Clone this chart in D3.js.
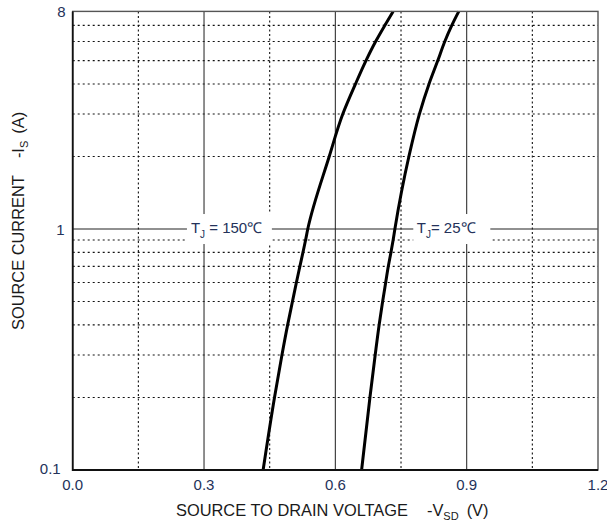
<!DOCTYPE html>
<html>
<head>
<meta charset="utf-8">
<script src="https://cdn.jsdelivr.net/npm/d3@7"></script>
<style>
  html, body { margin: 0; padding: 0; background: #fff; }
  svg { display: block; font-family: "Liberation Sans", Arial, sans-serif; }
</style>
</head>
<body>
<svg id="chart" width="607" height="525"></svg>
<script>
// Source current levels (A), shared by both curves
const currents = [0.1, 0.2, 0.3, 0.4, 0.5, 0.6, 0.7, 0.8, 0.9, 1, 2, 3, 4, 5, 6, 7, 8];
// Source-to-drain voltage (V) at each current, Tj = 150 °C
const vsd150 = [0.435, 0.461, 0.478, 0.491, 0.502, 0.511, 0.519, 0.526, 0.532, 0.537, 0.586, 0.617, 0.646, 0.670, 0.692, 0.713, 0.732];
// Source-to-drain voltage (V) at each current, Tj = 25 °C
const vsd25 = [0.660, 0.679, 0.691, 0.700, 0.708, 0.715, 0.721, 0.727, 0.732, 0.736, 0.768, 0.792, 0.814, 0.834, 0.850, 0.866, 0.882];

const xTicks = [0.0, 0.3, 0.6, 0.9, 1.2];
const xTickLabels = ["0.0", "0.3", "0.6", "0.9", "1.2"];
const xMinor = [0.15, 0.45, 0.75, 1.05];
const yTicks = [0.1, 1, 8];
const yTickLabels = ["0.1", "1", "8"];
const yMinor = [0.2, 0.3, 0.4, 0.5, 0.6, 0.7, 0.8, 0.9, 2, 3, 4, 5, 6, 7];

const svg = d3.select("#chart");
const plot = { left: 72.7, right: 598, top: 11.4, bottom: 470 };

const x = d3.scaleLinear().domain([0, 1.2]).range([plot.left, plot.right]);
const y = d3.scaleLog().domain([0.1, 8]).range([plot.bottom, plot.top]);

const labelColor = "#24325a";
const grid = svg.append("g");

// Dotted minor grid
grid.selectAll(".hminor").data(yMinor).join("line")
  .attr("x1", plot.left).attr("x2", plot.right)
  .attr("y1", d => y(d)).attr("y2", d => y(d))
  .attr("stroke", "#111").attr("stroke-width", 1.1)
  .attr("stroke-dasharray", "2,3");
grid.selectAll(".vminor").data(xMinor).join("line")
  .attr("x1", d => x(d)).attr("x2", d => x(d))
  .attr("y1", plot.top).attr("y2", plot.bottom)
  .attr("stroke", "#111").attr("stroke-width", 1.1)
  .attr("stroke-dasharray", "2,2.5");

// Solid major grid
grid.selectAll(".vmajor").data(xTicks.filter(d => d > 0 && d < 1.2)).join("line")
  .attr("x1", d => x(d)).attr("x2", d => x(d))
  .attr("y1", plot.top).attr("y2", plot.bottom)
  .attr("stroke", "#333").attr("stroke-width", 1.1);
grid.append("line")
  .attr("x1", plot.left).attr("x2", plot.right)
  .attr("y1", y(1)).attr("y2", y(1))
  .attr("stroke", "#222").attr("stroke-width", 1.2);

// Curve labels sit on white patches that break the grid
const curveLabels = [
  { box: [0.261, 0.455], tx: 0.270, text: " = 150℃" },
  { box: [0.778, 0.954], tx: 0.786, text: "= 25℃" }
];
curveLabels.forEach(l => {
  svg.append("rect")
    .attr("x", x(l.box[0])).attr("y", y(1) - 15)
    .attr("width", x(l.box[1]) - x(l.box[0])).attr("height", 30)
    .attr("fill", "#fff");
  const t = svg.append("text")
    .attr("x", x(l.tx)).attr("y", y(1) + 3.5)
    .attr("font-size", 15).attr("fill", labelColor);
  t.append("tspan").text("T");
  t.append("tspan").attr("font-size", 10).attr("dy", 5).text("J");
  t.append("tspan").attr("dy", -5).text(l.text);
});

// Forward characteristic curves
const line = d3.line().curve(d3.curveMonotoneY);
[vsd150, vsd25].forEach(vs => {
  svg.append("path")
    .attr("d", line(currents.map((c, i) => [x(vs[i]), y(c)]).reverse()))
    .attr("fill", "none").attr("stroke", "#000")
    .attr("stroke-width", 3).attr("stroke-linecap", "butt");
});

// Frame
svg.append("rect")
  .attr("x", plot.left).attr("y", plot.top)
  .attr("width", plot.right - plot.left).attr("height", plot.bottom - plot.top)
  .attr("fill", "none").attr("stroke", "#555").attr("stroke-width", 1.4);
svg.append("path")
  .attr("d", `M${plot.left},${plot.top}V${plot.bottom}H${plot.right}`)
  .attr("fill", "none").attr("stroke", "#111").attr("stroke-width", 1.8);

// Tick labels
svg.selectAll(".xtl").data(xTicks).join("text")
  .attr("x", d => x(d)).attr("y", 490)
  .attr("text-anchor", "middle").attr("font-size", 15).attr("fill", labelColor)
  .text((d, i) => xTickLabels[i]);
const yOffsets = { 0.1: [-12, 3.5], 1: [-8, 5.5], 8: [-7, 6] };
svg.selectAll(".ytl").data(yTicks).join("text")
  .attr("x", d => plot.left + yOffsets[d][0])
  .attr("y", d => y(d) + yOffsets[d][1])
  .attr("text-anchor", "end").attr("font-size", 15).attr("fill", labelColor)
  .text((d, i) => yTickLabels[i]);

// Axis titles
const xt = svg.append("text")
  .attr("x", 176).attr("y", 516)
  .attr("font-size", 16.4).attr("fill", "#1a1a1a");
xt.append("tspan").text("SOURCE TO DRAIN VOLTAGE");
xt.append("tspan").attr("dx", 19).text("-V");
xt.append("tspan").attr("font-size", 11).attr("dy", 4).text("SD");
xt.append("tspan").attr("dy", -4).attr("dx", 8).text("(V)");

const yt = svg.append("text")
  .attr("transform", "translate(24,330) rotate(-90)")
  .attr("font-size", 16.4).attr("fill", "#1a1a1a");
yt.append("tspan").text("SOURCE CURRENT");
yt.append("tspan").attr("dx", 18).text("-I");
yt.append("tspan").attr("font-size", 11).attr("dy", 4).text("S");
yt.append("tspan").attr("dy", -4).attr("dx", 7).text("(A)");
</script>
</body>
</html>
